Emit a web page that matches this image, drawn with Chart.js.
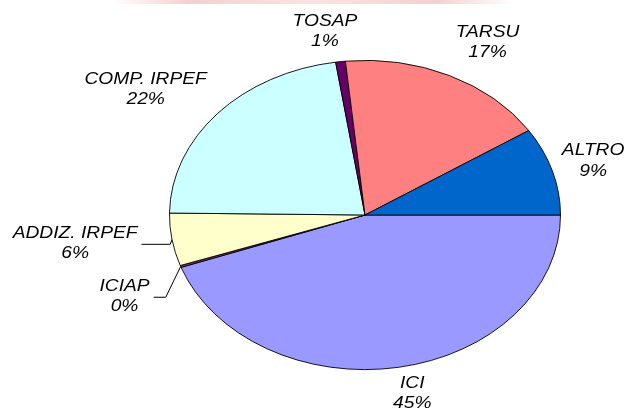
<!DOCTYPE html>
<html>
<head>
<meta charset="utf-8">
<script src="https://cdn.jsdelivr.net/npm/chart.js@4.4.1/dist/chart.umd.min.js"></script>
<style>
  html, body { margin: 0; padding: 0; background: #fff; overflow: hidden; }
  #band {
    position: absolute; left: 0; top: 0; width: 626px; height: 4px;
    background: linear-gradient(to right, #fff 18%, #f6d0d0 30%, #fbe2e2 50%, #f6d0d0 70%, #fff 82%);
  }
  #wrap { position: absolute; left: 0; top: 0; width: 626px; height: 430px; }
</style>
</head>
<body>
<div id="band"></div>
<div id="wrap"><canvas id="myChart" width="626" height="430"></canvas></div>
<script>
// slices, clockwise from 3 o'clock
const categories = ["ICI", "ICIAP", "ADDIZ. IRPEF", "COMP. IRPEF", "TOSAP", "TARSU", "ALTRO"];
const shares = [44.5, 0.2, 5.5, 22.4, 0.8, 17.4, 9.2];
const sliceColors = ["#9999FF", "#993366", "#FFFFCC", "#CCFFFF", "#660066", "#FF8080", "#0066CC"];

// vertical squash to get the tilted (elliptical) look
const SQUASH = 155 / 196;
// the labels in the original are stretched sideways
const TEXT_STRETCH = 1.2;

const ellipsePlugin = {
  id: "ellipse",
  beforeDatasetsDraw(chart) {
    const arc = chart.getDatasetMeta(0).data[0];
    const ctx = chart.ctx;
    ctx.save();
    ctx.translate(arc.x, arc.y);
    ctx.scale(1, SQUASH);
    ctx.translate(-arc.x, -arc.y);
  },
  afterDatasetsDraw(chart) {
    chart.ctx.restore();
  }
};

// label tweaks relative to the computed spot (Excel-ish placement)
const labelNudge = [[7, -9], [-14, 18], [-16, -2], [-11, -1], [-9, 5], [16, -1], [-8, 0]];

function stretchedText(ctx, text, x, y) {
  ctx.save();
  ctx.translate(x, y);
  ctx.scale(TEXT_STRETCH, 1);
  ctx.fillText(text, 0, 0);
  ctx.restore();
}

const labelPlugin = {
  id: "sliceLabels",
  afterDraw(chart) {
    const ctx = chart.ctx;
    const data = chart.data.datasets[0].data;
    const total = data.reduce((a, b) => a + b, 0);
    ctx.save();
    ctx.font = 'italic 16px "Liberation Sans", Arial, sans-serif';
    ctx.fillStyle = "#000";
    ctx.textAlign = "center";
    ctx.textBaseline = "middle";
    chart.getDatasetMeta(0).data.forEach((arc, i) => {
      const p = arc.getProps(["x", "y", "startAngle", "endAngle", "outerRadius"], true);
      const mid = (p.startAngle + p.endAngle) / 2;
      const rx = p.outerRadius, ry = p.outerRadius * SQUASH;
      const c = Math.cos(mid), s = Math.sin(mid);
      const lines = [chart.data.labels[i], Math.round(data[i] * 100 / total) + "%"];
      const w = Math.max(...lines.map(t => ctx.measureText(t).width)) * TEXT_STRETCH;
      const h = 40;
      const ax = p.x + rx * 1.1 * c, ay = p.y + ry * 1.1 * s;
      const bx = ax + (w / 2) * c + labelNudge[i][0];
      const by = ay + (h / 2) * s + labelNudge[i][1];
      stretchedText(ctx, lines[0], bx, by - 10);
      stretchedText(ctx, lines[1], bx, by + 10.5);

      // leader line when the label drifted away from its slice
      const ex = p.x + rx * c, ey = p.y + ry * s;
      const hgap = Math.max(bx - w / 2 - ex, ex - (bx + w / 2), 0);
      const vgap = Math.max(by - h / 2 - ey, ey - (by + h / 2), 0);
      if (Math.max(hgap, vgap) > 25) {
        const side = ex > bx ? 1 : -1;
        const x0 = bx + side * (w / 2 + 4);
        const x1 = ex - side * Math.abs(ey - by) * 0.5;
        ctx.beginPath();
        ctx.strokeStyle = "#000";
        ctx.lineWidth = 1;
        ctx.moveTo(x0, by + 1);
        ctx.lineTo(x1, by + 1);
        ctx.lineTo(ex, ey);
        ctx.stroke();
      }
    });
    ctx.restore();
  }
};

new Chart(document.getElementById("myChart").getContext("2d"), {
  type: "pie",
  data: {
    labels: categories,
    datasets: [{
      data: shares,
      backgroundColor: sliceColors,
      borderColor: "#000",
      borderWidth: 1
    }]
  },
  options: {
    responsive: false,
    animation: false,
    rotation: 90,
    layout: { padding: { left: 169, right: 65, top: 19, bottom: 19 } },
    plugins: {
      legend: { display: false },
      tooltip: { enabled: false }
    }
  },
  plugins: [ellipsePlugin, labelPlugin]
});
</script>
</body>
</html>
